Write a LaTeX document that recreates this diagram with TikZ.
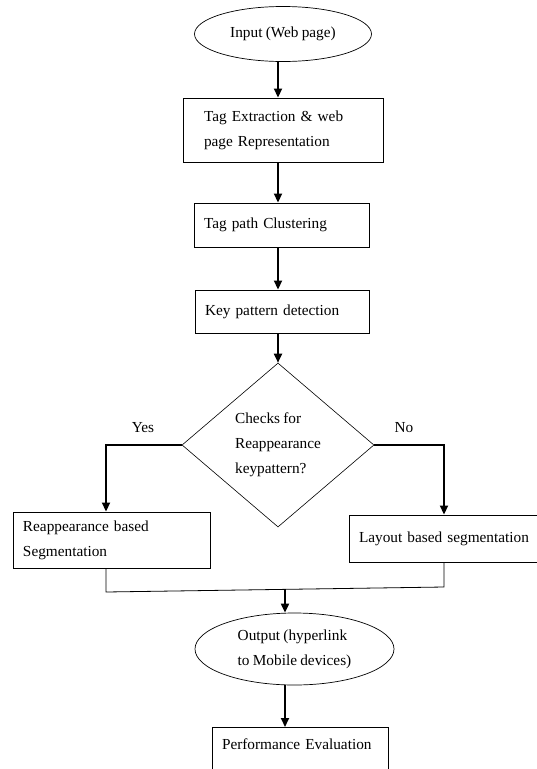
\documentclass[tikz,border=0pt]{standalone}
\usepackage{fontspec}
\setmainfont[WordSpace=0.85]{Liberation Serif}
\usetikzlibrary{shapes.geometric,arrows.meta}
\begin{document}
\begin{tikzpicture}[x=1pt, y=-1pt,
    every node/.style={font=\fontsize{15.3pt}{25pt}\selectfont},
    procbox/.style={draw, line width=0.9pt, align=left, inner xsep=10pt, inner ysep=0pt},
    termnode/.style={draw, ellipse, line width=0.7pt, align=left, inner sep=0pt},
    flow/.style={-{Triangle[width=8pt,length=9pt]}, line width=1.8pt},
    joinline/.style={line width=0.8pt}]
    \useasboundingbox (0,0) rectangle (536,769);
    % Guide columns for the connectors
    \coordinate (spine) at (278,0);
    \coordinate (yesx) at (106,0);
    \coordinate (nox) at (444,0);

    % Input
    \node[termnode, minimum width=177pt, minimum height=55pt] (in) at (283,34) {Input (Web page)};

    % Tag extraction
    \node[procbox, inner xsep=21pt, text width=158pt, minimum height=64pt] (extract) at (283,130) {Tag Extraction \& web\\page Representation};

    % Tag path clustering
    \node[procbox, text width=155pt, minimum height=44pt] (tagpath) at (281.5,225) {Tag path Clustering};

    % Key pattern detection
    \node[procbox, text width=154pt, minimum height=43pt] (keypat) at (282,311.5) {Key pattern detection};

    % Decision
    \node[draw, diamond, line width=0.6pt, align=left, inner sep=0pt, minimum width=192pt, minimum height=164pt] (dec) at (278,445) {Checks for\\Reappearance\\keypattern?};
    \node (yes) at (143,428) {Yes};
    \node (no) at (404,428) {No};

    % Segmentation branches
    \node[procbox, text width=177pt, minimum height=56pt] (reapp) at (111.5,540) {Reappearance based\\Segmentation};
    \node[procbox, text width=177pt, minimum height=47pt] (layout) at (447.5,538.5) {Layout based segmentation};

    % Output
    \node[termnode, minimum width=199pt, minimum height=72pt] (out) at (294.5,649) {Output (hyperlink\\to Mobile devices)};

    % Performance evaluation
    \node[procbox, anchor=north, text width=156pt, inner ysep=6pt, text height=16pt, text depth=24pt] (perf) at (300,727) {Performance Evaluation};

    % Arrows
    \draw[flow] (in.south -| spine) -- (extract.north -| spine);
    \draw[flow] (extract.south -| spine) -- (tagpath.north -| spine);
    \draw[flow] (tagpath.south -| spine) -- (keypat.north -| spine);
    \draw[flow] (keypat.south -| spine) -- (dec.north);
    \draw[flow] (dec.west) -| (reapp.north -| yesx);
    \draw[flow] (dec.east) -| (layout.north -| nox);

    % Merge
    \coordinate (mergeL) at (106,592);
    \coordinate (mergeR) at (444,587);
    \coordinate (merge) at (285,589.4);
    \draw[joinline] (reapp.south -| mergeL) -- (mergeL) -- (mergeR) -- (layout.south -| mergeR);
    \draw[flow] (merge) -- (merge |- out.north);
    \draw[flow] (out.south -| merge) -- (perf.north -| merge);
\end{tikzpicture}
\end{document}
